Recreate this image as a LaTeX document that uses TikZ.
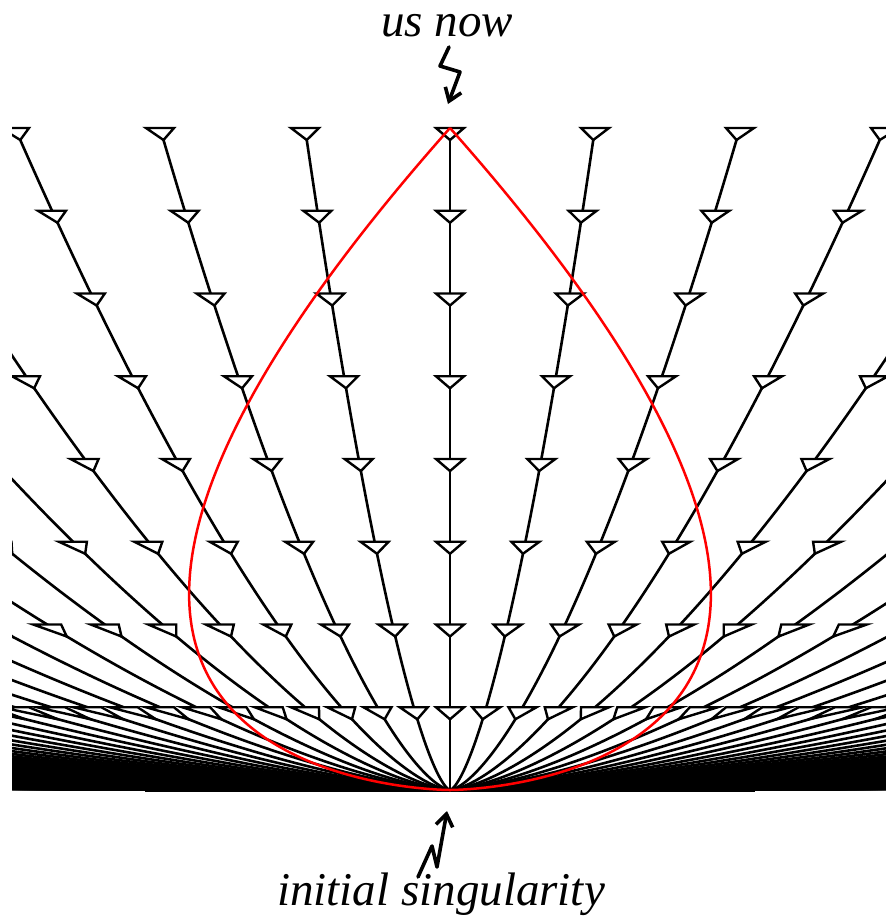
\documentclass[tikz,border=0pt]{standalone}
\usepackage{fontspec}
\setmainfont{Liberation Serif}
\usetikzlibrary{arrows.meta}
\begin{document}
\begin{tikzpicture}[x=1pt,y=-1pt,
  wl/.style={line width=2.6pt, black},
  tri/.style={line width=2.4pt, draw=black, fill=white, line join=miter},
  cone/.style={line width=2.5pt, red},
  axisline/.style={line width=2.5pt, black},
  squig/.style={line width=3.6pt, line join=round, line cap=round,
     -{Straight Barb[length=12pt,width=17pt,line width=3.6pt]}},
  lbl/.style={font=\fontsize{47}{52}\selectfont\itshape, inner sep=0pt, anchor=base}]
\useasboundingbox (0,0) rectangle (886,924);
\coordinate (O) at (450,790);
\coordinate (N) at (450,128);
\begin{scope}
  \clip (12,116) rectangle (886,790);
  % comoving worldlines x = 450 + 145 n u^2, y = 790 - 662 u^3
  \draw[wl] (O) -- (N);
  \foreach \n in {1,...,200} {
    \pgfmathsetmacro\q{min(1,3.1724/\n)}
    \pgfmathsetmacro\ex{145*min(\n,3.1724)}
    \pgfmathsetmacro\ey{790-662*\q*sqrt(\q)}
    \draw[wl] (O) .. controls (O) and ({450+\ex/3},790) .. ({450+\ex},\ey);
    \draw[wl] (O) .. controls (O) and ({450-\ex/3},790) .. ({450-\ex},\ey);
  }
  % time markers
  \foreach \k in {1,...,8} {
    \pgfmathsetmacro\sa{pow(\k/8,2/3)}
    \pgfmathsetmacro\sb{pow(\k/8-12/662,2/3)}
    \pgfmathsetmacro\yy{790-662*\k/8}
    \foreach \n in {-13,...,13} {
      \pgfmathsetmacro\xa{450+145*\n*\sa}
      \pgfmathsetmacro\xb{450+145*\n*\sb}
      \path[tri] ({\xa-14},\yy) -- ({\xa+14},\yy) -- (\xb,{\yy+12}) -- cycle;
    }
  }
\end{scope}
\coordinate (AL) at (145,791);
\coordinate (AR) at (755,791);
\draw[axisline] (AL) -- (AR);
% past light cone
\draw[cone] (O) .. controls (O) and (-137,790) .. (N);
\draw[cone] (O) .. controls (O) and (1037,790) .. (N);
% labels
\node[lbl] (now) at (447,36) {us now};
\node[lbl] (sing) at (441,905) {initial singularity};
\coordinate (t0) at (449,47);
\coordinate (t1) at (440,66);
\coordinate (t2) at (460,72);
\coordinate (t3) at (448,104);
\draw[squig] (t0) -- (t1) -- (t2) -- (t3);
\coordinate (b0) at (418,877);
\coordinate (b1) at (432,846);
\coordinate (b2) at (437,867);
\coordinate (b3) at (447,811);
\draw[squig] (b0) -- (b1) -- (b2) -- (b3);
\end{tikzpicture}
\end{document}
